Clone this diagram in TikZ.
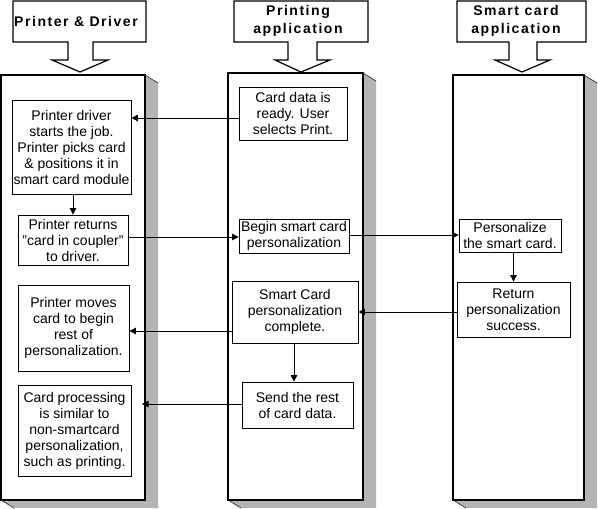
\documentclass[tikz,border=0pt]{standalone}
\usepackage{fontspec}
\setmainfont{Liberation Sans}
\newfontfamily\hdrfont[LetterSpace=11]{Liberation Sans}
\usetikzlibrary{arrows.meta}
\definecolor{shadowgray}{RGB}{180,180,180}
\tikzset{
  box/.style={draw, line width=0.8pt, align=center, inner sep=0pt,
    font=\fontsize{14}{16}\selectfont},
  arr/.style={-{Triangle[length=6.5pt,width=6.5pt]}, line width=0.8pt},
  panel/.style={draw, fill=white, line width=1.1pt},
  edge/.style={draw, line width=0.7pt, black!80},
  hdr/.style={draw, fill=white, line width=1.2pt, line join=miter},
  hdrtext/.style={align=center, inner sep=0pt,
    font=\hdrfont\bfseries\fontsize{14}{17.5}\selectfont}
}
\begin{document}
\begin{tikzpicture}[x=1pt,y=-1pt]
\useasboundingbox (0,0) rectangle (598,509);

% panels with 3D shadow
\foreach \L/\T/\R/\B in {1/75/145/500, 228/73/363/500, 453/75/584/500} {
  \fill[shadowgray] (\R,\T) -- (\R+13,\T+8) -- (\R+13,\B+8) -- (\L+13,\B+8) -- (\L,\B) -- cycle;
  \draw[panel] (\L,\T) rectangle (\R,\B);
  \draw[edge] (\R,\T) -- (\R+13,\T+8) (\L,\B) -- (\L+13,\B+8);
}

% header callouts
\draw[hdr] (13,1) -- (146,1) -- (146,42) -- (93,42) -- (93,60) -- (108,60) -- (80,72)
  -- (52,60) -- (68,60) -- (68,42) -- (13,42) -- cycle;
\draw[hdr] (234,1) -- (368,1) -- (368,42) -- (317,42) -- (317,60) -- (330,60) -- (301,72)
  -- (275,60) -- (288,60) -- (288,42) -- (234,42) -- cycle;
\draw[hdr] (457,1) -- (586,1) -- (586,42) -- (537,42) -- (537,60) -- (550,60) -- (522,72)
  -- (495,60) -- (509,60) -- (509,42) -- (457,42) -- cycle;
\node[hdrtext] (HL) at (76,21) {Printer \& Driver};
\node[hdrtext] (HM) at (298,21) {Printing\\application};
\node[hdrtext] (HR) at (516,21) {Smart card\\application};

% left column
\node[box, minimum width=119, minimum height=94] (L1) at (71.5,147)
  {Printer driver\\starts the job.\\Printer picks card\\\& positions it in\\smart card module};
\node[box, minimum width=110, minimum height=50] (L2) at (73,240)
  {Printer returns\\\symbol{34}card in coupler\symbol{34}\\to driver.};
\node[box, minimum width=111, minimum height=86] (L3) at (73.5,328)
  {Printer moves\\card to begin\\rest of\\personalization.};
\node[box, minimum width=113, minimum height=91] (L4) at (74.5,430.5)
  {Card processing\\is similar to\\non-smartcard\\personalization,\\such as printing.};

% middle column
\node[box, minimum width=108, minimum height=53] (M1) at (293,113.5)
  {Card data is\\ready. User\\selects Print.};
\node[box, minimum width=110, minimum height=34] (M2) at (294,236)
  {Begin smart card\\personalization};
\node[box, minimum width=126, minimum height=62] (M3) at (295,312)
  {Smart Card\\personalization\\complete.};
\node[box, minimum width=111, minimum height=46] (M4) at (297.5,405)
  {Send the rest\\of card data.};

% right column
\node[box, minimum width=102, minimum height=33] (R1) at (510,235.5)
  {Personalize\\the smart card.};
\node[box, minimum width=113, minimum height=55] (R2) at (513.5,309.5)
  {Return\\personalization\\success.};

\coordinate (E9) at (142,404);

% connectors
\draw[arr] (M1.west |- 0,118) -- (L1.east |- 0,118);
\draw[arr] (L1.south -| L2.north) -- (L2.north);
\draw[arr] (L2.east |- 0,237) -- (M2.west |- 0,237);
\draw[arr] (M2.east |- 0,235) -- (R1.west |- 0,235);
\draw[arr] (R1.south -| R2.north) -- (R2.north);
\draw[arr] (R2.west |- 0,312) -- (M3.east |- 0,312);
\draw[arr] (M3.west |- 0,331) -- (L3.east |- 0,331);
\draw[arr] (M3.south -| 294,0) -- (M4.north -| 294,0);
\draw[arr] (M4.west |- E9) -- (E9);
\end{tikzpicture}
\end{document}
